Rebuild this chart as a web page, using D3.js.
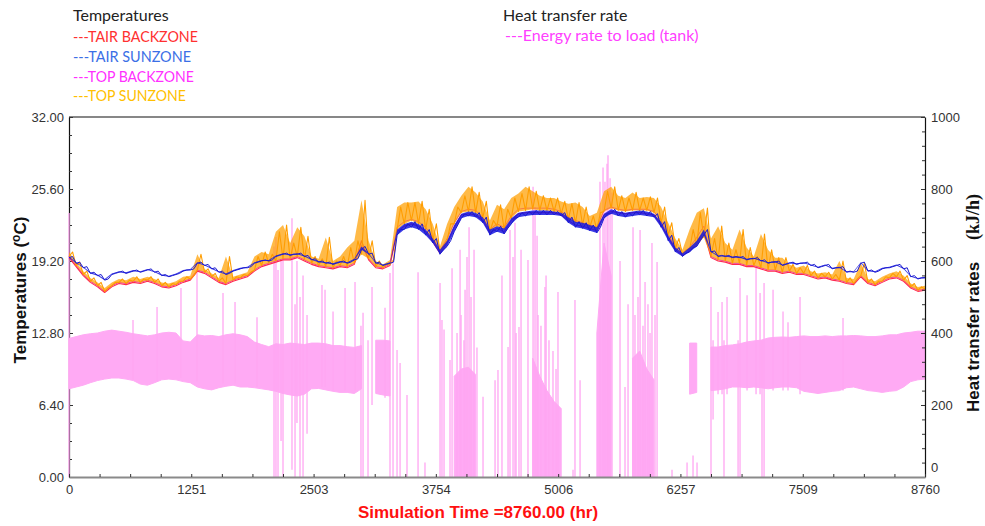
<!DOCTYPE html>
<html>
<head>
<meta charset="utf-8">
<script src="https://cdn.jsdelivr.net/npm/d3@7"></script>
<style>
  body { margin: 0; background: #fff; }
  svg { display: block; }
</style>
</head>
<body>
<svg id="chart" width="985" height="526"></svg>
<script>
// Hourly simulation output summarised on a 73-hour grid (121 samples, 0..8760 h)
const STEP_HOURS = 73;
const SIM_HOURS = 8760;

// Axis ticks
const timeTicks = [0, 1251, 2503, 3754, 5006, 6257, 7509, 8760];
const tempTicks = [0, 6.4, 12.8, 19.2, 25.6, 32];
const rateTicks = [0, 200, 400, 600, 800, 1000];

// TAIR SUNZONE (°C): low / high per sample
const tairSunLo = [19.5,19.0,18.6,18.1,17.9,17.5,18.0,18.2,18.1,18.3,
  18.2,18.4,18.2,17.9,17.8,18.0,18.3,18.4,19.0,18.8,
  18.5,18.2,18.0,18.3,18.5,18.6,19.0,19.2,19.2,19.6,
  19.8,19.7,19.8,19.6,19.3,19.1,19.0,18.9,19.1,19.0,
  19.3,20.2,19.8,19.0,18.8,19.0,21.5,22.0,22.2,22.0,
  21.5,20.8,19.8,20.5,21.8,23.0,23.2,23.1,22.6,21.5,
  21.8,21.6,22.5,23.1,23.2,23.3,23.3,23.3,23.3,23.2,
  22.6,22.2,22.1,21.9,21.7,23.0,23.4,23.2,23.1,23.2,
  23.3,23.2,23.1,22.2,21.0,20.0,19.6,20.0,20.5,21.5,
  20.0,19.6,19.6,19.5,19.5,19.3,19.4,19.2,19.0,19.1,
  18.8,19.0,18.9,19.0,18.8,18.6,18.8,18.5,18.6,18.2,
  18.2,19.0,18.3,18.2,18.5,18.6,18.8,18.5,17.8,17.6,
  17.7];
const tairSunHi = [19.6,19.1,18.7,18.2,18.0,17.6,18.1,18.3,18.2,18.4,
  18.3,18.5,18.3,18.0,17.9,18.1,18.4,18.5,19.1,18.9,
  18.6,18.3,18.1,18.4,18.6,18.7,19.1,19.3,19.3,19.7,
  19.9,19.8,19.9,19.7,19.4,19.2,19.1,19.0,19.2,19.1,
  19.4,20.5,19.9,19.1,18.9,19.1,22.0,22.5,22.7,22.5,
  22.0,21.2,20.2,21.0,22.4,23.4,23.6,23.5,23.1,22.0,
  22.3,22.1,23.0,23.5,23.6,23.7,23.7,23.7,23.6,23.5,
  23.1,22.7,22.6,22.4,22.2,23.4,23.8,23.6,23.5,23.6,
  23.7,23.6,23.4,22.7,21.5,20.4,19.9,20.4,21.0,22.0,
  20.1,19.7,19.7,19.6,19.6,19.4,19.5,19.3,19.1,19.2,
  18.9,19.1,19.0,19.1,18.9,18.7,18.9,18.6,18.7,18.3,
  18.3,19.1,18.4,18.3,18.6,18.7,18.9,18.6,17.9,17.7,
  17.8];

// TOP SUNZONE (°C): low / peak per sample
const topSunLo = [19.6,18.8,18.0,17.4,17.0,16.5,17.0,17.3,17.2,17.4,
  17.3,17.5,17.3,17.0,16.9,17.1,17.4,17.6,18.4,18.2,
  17.8,17.4,17.2,17.5,17.7,17.9,18.4,18.8,19.0,19.2,
  19.4,19.4,19.6,19.3,19.0,18.8,18.7,18.6,18.8,18.7,
  19.0,19.8,19.4,18.7,18.6,18.9,22.0,22.5,22.8,22.5,
  22.0,21.0,20.0,21.0,22.5,23.5,23.6,23.5,23.0,21.8,
  22.3,22.0,23.0,23.6,23.7,23.8,23.7,23.7,23.6,23.4,
  22.9,22.6,22.4,22.2,22.0,23.6,23.9,23.7,23.6,23.7,
  23.7,23.7,23.5,22.6,21.5,20.3,19.8,20.2,20.6,21.3,
  19.6,19.3,19.2,19.0,19.0,18.8,18.8,18.6,18.4,18.4,
  18.2,18.3,18.1,18.1,17.9,17.7,17.8,17.6,17.5,17.3,
  17.2,17.9,17.3,17.1,17.4,17.7,17.8,17.5,16.9,16.6,
  16.7];
const topSunHi = [20.0,19.1,18.3,17.7,17.3,16.8,17.3,17.6,17.5,17.8,
  17.6,17.8,17.6,17.3,17.2,17.4,17.8,17.9,19.8,18.5,
  18.1,17.7,19.6,17.8,18.0,18.2,19.6,20.0,19.8,21.8,
  22.4,20.8,22.2,21.4,19.6,19.4,21.3,19.2,19.6,20.4,
  21.0,24.6,21.0,19.2,18.9,19.3,24.0,24.4,24.4,24.5,
  23.8,22.5,20.5,22.5,24.0,25.0,25.8,25.3,24.5,22.8,
  24.2,23.8,24.8,25.2,25.8,25.4,25.0,24.8,24.8,24.5,
  24.3,24.4,24.0,23.2,23.5,25.4,25.8,25.0,24.8,25.3,
  24.8,24.9,24.8,24.0,22.6,21.2,20.2,22.0,23.5,23.9,
  21.2,22.3,20.8,20.2,22.0,20.4,19.6,21.6,20.2,19.5,
  19.5,18.9,18.6,18.8,18.3,18.1,18.2,18.0,19.2,17.7,
  17.6,19.0,17.6,17.4,17.8,18.1,18.3,17.9,17.2,16.9,
  17.0];

// TAIR BACKZONE (°C)
const tairBack = [19.5,18.7,17.9,17.3,16.9,16.4,16.9,17.2,17.1,17.3,
  17.2,17.4,17.2,16.9,16.8,17.0,17.3,17.5,18.3,18.1,
  17.7,17.3,17.1,17.4,17.6,17.8,18.3,18.7,18.9,19.1,
  19.3,19.3,19.5,19.2,18.9,18.7,18.6,18.5,18.7,18.6,
  18.9,21.0,19.3,18.6,18.5,18.8,21.8,22.3,22.5,22.3,
  21.8,20.9,19.9,20.8,22.2,23.3,23.4,23.3,22.8,21.7,
  22.1,21.8,22.8,23.4,23.5,23.5,23.5,23.5,23.5,23.3,
  22.8,22.4,22.3,22.1,21.9,23.3,23.6,23.5,23.4,23.5,
  23.5,23.4,23.3,22.4,21.3,20.2,19.7,20.1,20.8,21.8,
  19.5,19.2,19.1,18.9,18.9,18.7,18.7,18.5,18.3,18.3,
  18.1,18.2,18.0,18.0,17.8,17.6,17.7,17.5,17.4,17.2,
  17.1,17.8,17.2,17.0,17.3,17.6,17.7,17.4,16.8,16.5,
  16.6];

// TOP BACKZONE (°C)
const topBack = [19.6,18.8,18.0,17.4,17.0,16.5,17.0,17.3,17.2,17.4,
  17.3,17.5,17.3,17.0,16.9,17.1,17.4,17.6,18.4,18.2,
  17.8,17.4,17.2,17.5,17.7,17.9,18.4,18.8,19.0,19.2,
  19.4,19.4,19.6,19.3,19.0,18.8,18.7,18.6,18.8,18.7,
  19.0,20.6,19.4,18.7,18.6,18.9,22.2,22.7,22.9,22.7,
  22.2,21.3,20.1,21.2,22.6,23.6,23.8,23.7,23.1,22.0,
  22.5,22.2,23.2,23.8,23.9,23.9,23.9,23.9,23.8,23.6,
  23.1,22.8,22.6,22.4,22.2,23.7,24.0,23.8,23.7,23.8,
  23.8,23.8,23.6,22.8,21.6,20.4,19.9,20.4,21.3,22.3,
  19.6,19.3,19.2,19.0,19.0,18.8,18.8,18.6,18.4,18.4,
  18.2,18.3,18.1,18.1,17.9,17.7,17.8,17.6,17.5,17.3,
  17.2,17.9,17.3,17.1,17.4,17.7,17.8,17.5,16.9,16.6,
  16.7];

// Energy rate to load (kJ/h): low / high envelope per sample (null = no load)
const loadLo = [245,250,255,262,268,272,275,275,272,268,
  258,255,262,270,272,270,265,262,250,245,
  242,248,252,255,250,250,248,245,242,238,
  232,228,225,230,245,246,242,238,235,235,
  232,245,null,232,228,225,null,null,null,null,
  null,null,null,null,0,0,0,0,null,null,
  null,null,null,null,null,0,0,0,0,0,
  null,null,null,null,0,0,0,null,null,0,
  0,0,0,null,null,null,null,230,235,null,
  240,242,245,250,250,248,250,248,245,248,
  250,250,248,238,235,232,235,238,240,248,
  250,245,240,238,235,238,240,250,265,270,
  272];
const loadHi = [385,390,395,398,400,405,408,405,402,398,
  395,392,395,400,402,400,378,375,395,392,
  393,390,395,398,395,390,375,368,362,370,
  368,372,370,368,372,372,370,365,365,362,
  360,365,null,380,380,378,null,null,null,null,
  null,null,null,null,280,300,305,285,null,null,
  null,null,null,null,null,330,280,240,210,190,
  null,null,null,null,400,650,560,null,null,330,
  350,300,270,null,null,null,null,372,372,null,
  361,361,365,367,370,375,378,380,386,388,
  389,388,390,392,390,390,392,390,392,392,
  393,392,390,390,392,395,395,400,402,405,
  405];

// Individual load events: [hour, low kJ/h, high kJ/h]
const loadSpikes = [
  [0,0,733],[655,270,436],[901,265,472],[1146,275,525],[1310,265,597],
  [1576,260,511],[1699,260,486],[1924,250,444],[2098,0,640],[2118,0,667],
  [2139,0,575],[2170,100,600],[2190,0,610],[2282,20,719],[2313,0,480],
  [2333,150,600],[2364,0,500],[2395,0,560],[2436,120,450],[2589,250,533],
  [2620,250,520],[2702,240,460],[2825,240,525],[2927,240,542],[2988,0,420],
  [3009,0,456],[3060,0,380],[3101,200,528],[3234,220,470],
  [3285,0,567],[3316,0,594],[3357,0,353],[3388,0,317],[3459,0,228],
  [3572,0,569],[3643,0,40],[3797,0,539],[3817,0,436],[3838,0,410],[3899,0,325],
  [3920,0,580],[3971,0,400],[4002,0,631],[4012,0,450],[4042,0,380],
  [4053,0,520],[4073,0,611],[4094,0,694],[4114,0,500],[4145,0,631],
  [4175,0,360],[4237,0,223],[4360,0,269],[4390,0,297],[4431,0,560],
  [4493,0,361],[4513,0,686],[4544,0,611],[4564,0,706],[4575,0,400],
  [4605,0,417],[4626,0,631],[4697,0,603],[4749,0,806],[4769,0,750],
  [4790,0,670],[4800,0,450],[4830,0,420],[4871,0,528],[4882,0,560],
  [4912,0,380],[4953,0,350],[4984,0,300],[5004,0,514],[5158,0,20],
  [5178,0,492],[5230,0,269],[5434,0,820],[5465,0,860],[5485,0,820],
  [5506,0,870],[5516,0,894],[5537,0,830],[5557,0,790],[5639,0,600],
  [5690,0,250],[5721,0,480],[5772,0,694],[5792,0,450],[5823,0,500],
  [5844,0,686],[5874,0,420],[5895,0,542],[5925,0,480],[5946,0,400],
  [5966,0,650],[5997,0,450],[6018,0,597],[6171,0,20],
  [6325,0,40],[6386,0,60],[6427,0,40],
  [6570,0,528],[6591,160,380],[6642,230,458],[6683,230,486],[6703,0,380],
  [6734,230,500],[6847,0,380],[6867,0,553],[6939,240,505],[7031,230,581],
  [7072,230,511],[7092,0,380],[7113,0,539],[7205,240,520],[7307,240,460],
  [7358,240,430],[7481,230,500],[7921,240,442]
];

// ---------------------------------------------------------------------------
const svg = d3.select("#chart");
const plot = { left: 69, right: 925, top: 117, bottom: 477 };

const x = d3.scaleLinear().domain([0, SIM_HOURS]).range([plot.left, plot.right]);
const yT = d3.scaleLinear().domain([0, 32]).range([plot.bottom, plot.top]);
const yE = d3.scaleLinear().domain([0, 1000]).range([plot.bottom, plot.top]);

const hourAt = i => i * STEP_HOURS;
const tickFont = "'Liberation Sans', Arial, sans-serif";

function styleAxis(sel, domainColor) {
  sel.select(".domain").attr("stroke", domainColor).attr("stroke-width", 1.2);
  sel.selectAll(".tick line").attr("stroke", "#333");
  sel.selectAll(".tick text").attr("fill", "#333")
    .style("font-family", tickFont).style("font-size", "13px");
}
function minorTicks(sel) {
  sel.select(".domain").remove();
  sel.selectAll("line").attr("stroke", "#333");
}

// frame: top edge and left (temperature) axis sit beneath the series
svg.append("line")
  .attr("x1", plot.left).attr("x2", plot.right)
  .attr("y1", plot.top).attr("y2", plot.top)
  .attr("stroke", "#111").attr("stroke-width", 1.2);

const minorT = d3.range(0, 32.001, 1.6).filter(v => !tempTicks.some(t => Math.abs(t - v) < 1e-6));
const minorE = d3.range(0, 1000.1, 40).filter(v => v % 200 !== 0);
const minorX = d3.range(0, 29).map(k => SIM_HOURS * k / 28).filter((v, k) => k % 4 !== 0);

const leftAx = svg.append("g").attr("transform", `translate(${plot.left},0)`)
  .call(d3.axisLeft(yT).tickValues(tempTicks).tickFormat(d3.format(".2f"))
    .tickSizeInner(-4).tickSizeOuter(0).tickPadding(5));
styleAxis(leftAx, "#111");
svg.append("g").attr("transform", `translate(${plot.left},0)`)
  .call(d3.axisLeft(yT).tickValues(minorT).tickFormat("").tickSizeInner(-3).tickSizeOuter(0))
  .call(minorTicks);

svg.append("defs").append("clipPath").attr("id", "plotClip")
  .append("rect")
  .attr("x", plot.left - 1).attr("y", plot.top)
  .attr("width", plot.right - plot.left + 2).attr("height", plot.bottom - plot.top);

const g = svg.append("g").attr("clip-path", "url(#plotClip)");

// Load rate: envelope band, then individual events
const band = loadLo.map((lo, i) => ({ h: hourAt(i), lo, hi: loadHi[i] }));
g.append("path")
  .datum(band)
  .attr("fill", "#ffaaf4")
  .attr("stroke", "#ffaaf4")
  .attr("stroke-width", 1)
  .attr("d", d3.area()
    .defined(d => d.hi !== null && d.lo !== null)
    .x(d => x(d.h)).y0(d => yE(d.lo)).y1(d => yE(d.hi)));

g.selectAll("line.spike")
  .data(loadSpikes)
  .join("line")
  .attr("class", "spike")
  .attr("x1", d => x(d[0])).attr("x2", d => x(d[0]))
  .attr("y1", d => yE(d[1])).attr("y2", d => yE(d[2]))
  .attr("stroke", "#ffa6f2")
  .attr("stroke-width", 1.3);

// Temperatures: each trace alternates between a sample's low and high
function zigzag(lo, hi) {
  const pts = [];
  lo.forEach((v, i) => {
    pts.push([hourAt(i), v]);
    if (hi && i < lo.length - 1) pts.push([hourAt(i) + STEP_HOURS / 2, hi[i]]);
  });
  return pts;
}
const tLine = d3.line().x(d => x(d[0])).y(d => yT(d[1]));
const tBand = d3.area().x(d => x(d.h)).y0(d => yT(d.lo)).y1(d => yT(d.hi));
const bandOf = (lo, hi) => lo.map((v, i) => ({ h: hourAt(i), lo: v, hi: hi[i] }));

function trace(pts, color, w) {
  g.append("path")
    .attr("fill", "none")
    .attr("stroke", color)
    .attr("stroke-width", w)
    .attr("stroke-linejoin", "round")
    .attr("d", tLine(pts));
}

trace(zigzag(topBack), "#e81ee0", 1);
trace(zigzag(tairBack), "#ff2a50", 1.1);

g.append("path").attr("d", tBand(bandOf(topSunLo, topSunHi)))
  .attr("fill", "#ffa000").attr("fill-opacity", 0.72);
trace(zigzag(topSunLo, topSunHi), "#ff9d00", 1.1);

g.append("path").attr("d", tBand(bandOf(tairSunLo, tairSunHi)))
  .attr("fill", "#1818e0").attr("fill-opacity", 0.85);
trace(zigzag(tairSunLo, tairSunHi), "#1a1ad0", 1);

// bottom (time) and right (rate) axes
const rightAx = svg.append("g").attr("transform", `translate(${plot.right},0)`)
  .call(d3.axisRight(yE).tickValues(rateTicks).tickFormat(d3.format("d"))
    .tickSizeInner(-4).tickSizeOuter(0).tickPadding(6));
styleAxis(rightAx, "#111");
rightAx.selectAll(".tick").filter(d => d === 0).select("text").attr("dy", "-0.4em");
svg.append("g").attr("transform", `translate(${plot.right},0)`)
  .call(d3.axisRight(yE).tickValues(minorE).tickFormat("").tickSizeInner(-3).tickSizeOuter(0))
  .call(minorTicks);

const bottomAx = svg.append("g").attr("transform", `translate(0,${plot.bottom})`)
  .call(d3.axisBottom(x).tickValues(timeTicks).tickFormat(d3.format("d"))
    .tickSizeInner(-3).tickSizeOuter(0).tickPadding(8));
styleAxis(bottomAx, "#8a8a8a");
bottomAx.select(".domain").attr("stroke-width", 2);
svg.append("g").attr("transform", `translate(0,${plot.bottom})`)
  .call(d3.axisBottom(x).tickValues(minorX).tickFormat("").tickSizeInner(-3).tickSizeOuter(0))
  .call(minorTicks);

// Axis titles
const titleFont = "'Liberation Sans', Arial, sans-serif";
svg.append("text")
  .attr("x", 478).attr("y", 518)
  .attr("text-anchor", "middle")
  .attr("fill", "#ff1010")
  .style("font-family", titleFont).style("font-weight", "bold").style("font-size", "17px")
  .text("Simulation Time =8760.00 (hr)");

const leftTitle = svg.append("text")
  .attr("transform", "translate(26,290) rotate(-90)")
  .attr("text-anchor", "middle")
  .attr("fill", "#111")
  .style("font-family", titleFont).style("font-weight", "bold").style("font-size", "17px");
leftTitle.append("tspan").text("Temperatures  (");
leftTitle.append("tspan").attr("dy", "-6").style("font-size", "12px").text("o");
leftTitle.append("tspan").attr("dy", "6").text("C)");

svg.append("text")
  .attr("transform", "translate(979,412) rotate(-90)")
  .attr("fill", "#111")
  .style("font-family", titleFont).style("font-weight", "bold").style("font-size", "17px")
  .text("Heat transfer rates");
svg.append("text")
  .attr("transform", "translate(979,240) rotate(-90)")
  .attr("fill", "#111")
  .style("font-family", "'Liberation Serif', serif").style("font-weight", "bold").style("font-size", "18px")
  .text("(kJ/h)");

// Legends
const legendFont = "Lato, 'Noto Sans', sans-serif";
const tempLegend = [
  { text: "Temperatures", color: "#222", y: 21, len: null },
  { text: "---TAIR BACKZONE", color: "#ff3030", y: 42, len: 125 },
  { text: "---TAIR SUNZONE", color: "#3b6fe6", y: 62, len: 118 },
  { text: "---TOP BACKZONE", color: "#ff30ff", y: 81.5, len: 121 },
  { text: "---TOP SUNZONE", color: "#ffbf00", y: 100.5, len: 113 }
];
svg.append("g").selectAll("text")
  .data(tempLegend)
  .join("text")
  .attr("x", 73).attr("y", d => d.y)
  .attr("fill", d => d.color)
  .attr("textLength", d => d.len)
  .attr("lengthAdjust", "spacingAndGlyphs")
  .style("font-family", legendFont).style("font-size", "16px")
  .text(d => d.text);

const rateLegend = [
  { text: "Heat transfer rate", color: "#222", x: 503, y: 21 },
  { text: "---Energy rate to load (tank)", color: "#ff40ff", x: 505, y: 41 }
];
svg.append("g").selectAll("text")
  .data(rateLegend)
  .join("text")
  .attr("x", d => d.x).attr("y", d => d.y)
  .attr("fill", d => d.color)
  .style("font-family", legendFont).style("font-size", "16px")
  .text(d => d.text);
</script>
</body>
</html>
